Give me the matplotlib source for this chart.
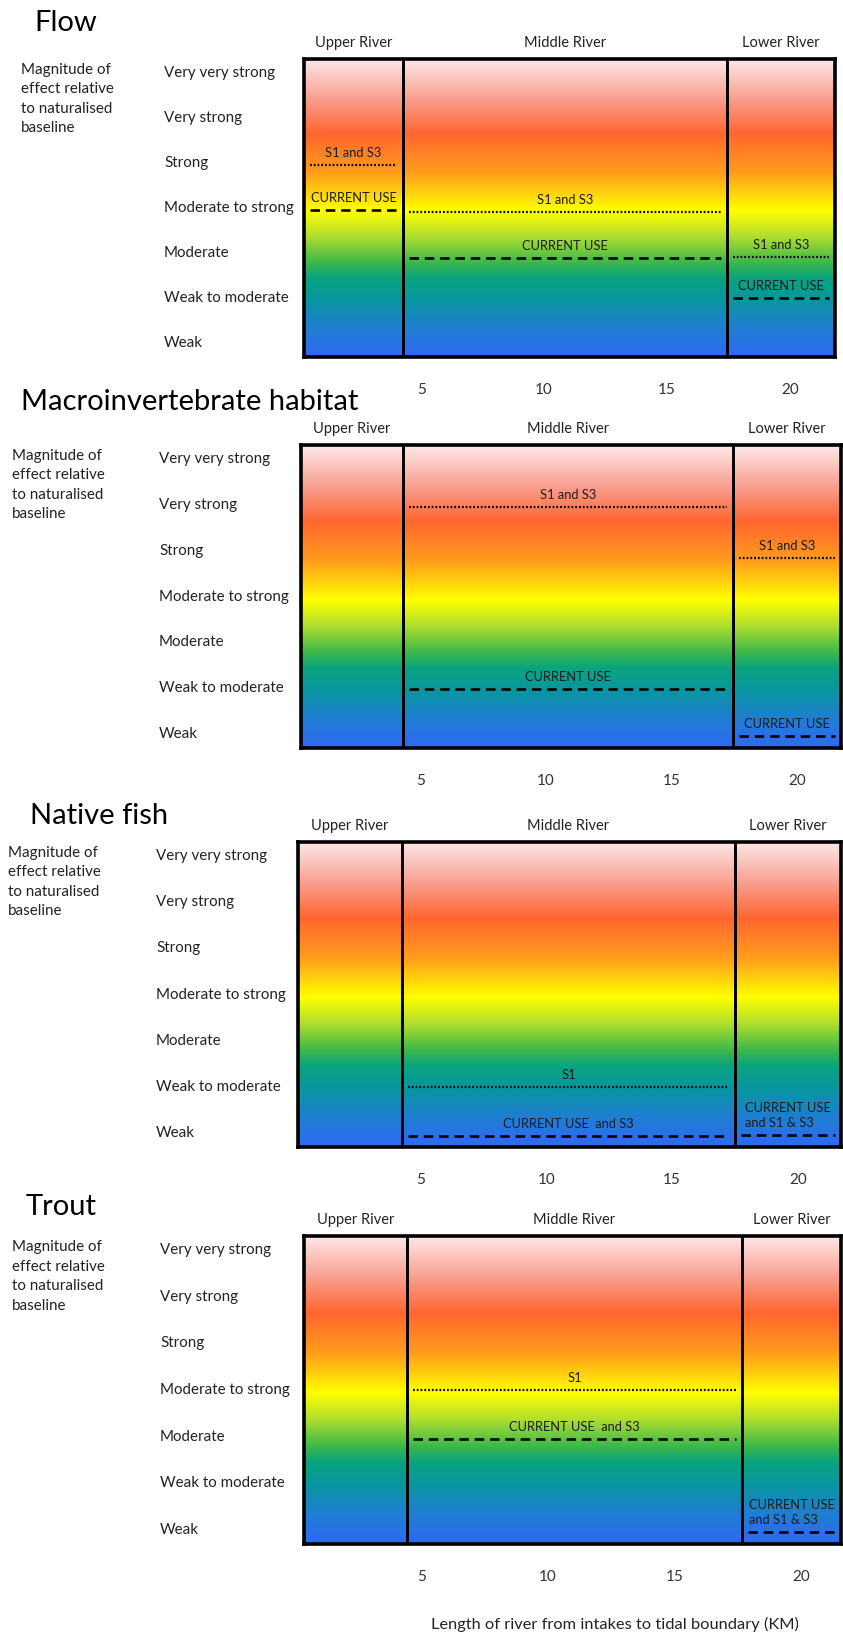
import numpy as np
import matplotlib
matplotlib.use("Agg")
import matplotlib.pyplot as plt
import matplotlib.transforms as mtransforms
from matplotlib.colors import LinearSegmentedColormap

plt.rcParams["font.family"] = ["Lato", "DejaVu Sans"]

# ---------------- data ----------------
levels = ["Weak", "Weak to moderate", "Moderate", "Moderate to strong",
          "Strong", "Very strong", "Very very strong"]
sections = ["Upper River", "Middle River", "Lower River"]
km_ticks = [5, 10, 15, 20]
x_label = "Length of river from intakes to tidal boundary (KM)"
side_note = "Magnitude of\neffect relative\nto naturalised\nbaseline"
panel_titles = ["Flow", "Macroinvertebrate habitat", "Native fish", "Trout"]

# section boundaries along the river (km) for each panel
flow_edges = [0.24, 4.27, 17.44, 21.83]
macro_edges = [0.24, 4.30, 17.45, 21.75]
fish_edges = [0.12, 4.26, 17.50, 21.72]
trout_edges = [0.36, 4.43, 17.67, 21.58]

# scenario markers: section index, label, line style, level (0 = Weak ... 6 = Very very strong)
flow_section = [0, 0, 1, 1, 2, 2]
flow_label = ["S1 and S3", "CURRENT USE", "S1 and S3", "CURRENT USE", "S1 and S3", "CURRENT USE"]
flow_style = ["dotted", "dashed", "dotted", "dashed", "dotted", "dashed"]
flow_level = [3.95, 2.95, 2.92, 1.90, 1.92, 1.00]

macro_section = [1, 1, 2, 2]
macro_label = ["S1 and S3", "CURRENT USE", "S1 and S3", "CURRENT USE"]
macro_style = ["dotted", "dashed", "dotted", "dashed"]
macro_level = [4.96, 0.98, 3.83, -0.04]

fish_section = [1, 1, 2]
fish_label = ["S1", "CURRENT USE  and S3", "CURRENT USE\nand S1 & S3"]
fish_style = ["dotted", "dashed", "dashed"]
fish_level = [1.00, -0.06, -0.04]

trout_section = [1, 1, 2]
trout_label = ["S1", "CURRENT USE  and S3", "CURRENT USE\nand S1 & S3"]
trout_style = ["dotted", "dashed", "dashed"]
trout_level = [2.99, 1.94, -0.04]

panels = [
    (flow_edges, flow_section, flow_label, flow_style, flow_level),
    (macro_edges, macro_section, macro_label, macro_style, macro_level),
    (fish_edges, fish_section, fish_label, fish_style, fish_level),
    (trout_edges, trout_section, trout_label, trout_style, trout_level),
]

# ---------------- layout (pixels) ----------------
W, H, DPI = 843, 1635, 100
box_px = [(304, 835, 59, 357), (301, 841, 445, 748), (298, 841, 842, 1147), (304, 841, 1236, 1544)]
title_px = [(34, 23), (21, 402), (30, 816), (26, 1207)]
row_x_px = [164, 159, 156, 160]
note_x_px = [21, 12, 8, 12]
YLIM = (-0.3, 6.3)

grad_colors = [
    (0.00, "#2f69f4"),
    (0.10, "#1f7fd0"),
    (0.19, "#08969f"),
    (0.265, "#0aa47e"),
    (0.315, "#3cb84a"),
    (0.405, "#b2df2e"),
    (0.49, "#ffff00"),
    (0.62, "#ff9c1c"),
    (0.75, "#ff6630"),
    (0.86, "#f99c8c"),
    (1.00, "#fde8e8"),
]
cmap = LinearSegmentedColormap.from_list("effect", grad_colors)

TXT = "#222222"

fig = plt.figure(figsize=(W / DPI, H / DPI), dpi=DPI)


def fx(px):
    return px / W


def fy(py):
    return 1 - py / H


grad = np.linspace(0, 1, 600).reshape(-1, 1)

for i, (edges, sec, lab, sty, lvl) in enumerate(panels):
    L, R, T, B = box_px[i]
    ax = fig.add_axes([fx(L), fy(B), (R - L) / W, (B - T) / H])
    ax.set_xlim(edges[0], edges[-1])
    ax.set_ylim(*YLIM)
    ax.imshow(grad, cmap=cmap, aspect="auto", origin="lower",
              extent=[edges[0], edges[-1], YLIM[0], YLIM[1]],
              interpolation="bilinear", zorder=0)
    for e in edges[1:-1]:
        ax.axvline(e, color="black", lw=2.1, zorder=4)
    for s in ax.spines.values():
        s.set_linewidth(2.6)
        s.set_color("black")
        s.set_zorder(5)
    ax.set_yticks([])
    ax.set_xticks(km_ticks)
    ax.set_xticklabels([str(t) for t in km_ticks])
    ax.tick_params(axis="x", length=0, pad=19, labelsize=11, labelcolor="#333333")

    # section headers
    for j, name in enumerate(sections):
        cx = (edges[j] + edges[j + 1]) / 2
        ax.annotate(name, xy=(cx, 1), xycoords=("data", "axes fraction"),
                    xytext=(0, 16), textcoords="offset pixels",
                    ha="center", va="center", fontsize=10.5, color=TXT)

    # level labels
    blend = mtransforms.blended_transform_factory(fig.transFigure, ax.transData)
    for k, name in enumerate(levels):
        ax.text(fx(row_x_px[i]), k, name, transform=blend, ha="left", va="center",
                fontsize=10.9, color=TXT)
    ax.annotate(side_note, xy=(fx(note_x_px[i]), len(levels) - 1), xycoords=blend,
                xytext=(0, 10), textcoords="offset pixels", ha="left", va="top",
                fontsize=10.9, color=TXT, linespacing=1.5)

    # scenario lines
    for s_idx, text, style, lv in zip(sec, lab, sty, lvl):
        a, b = edges[s_idx], edges[s_idx + 1]
        inset = 0.25
        x0, x1 = a + inset, min(b - inset, edges[-1])
        if style == "dotted":
            ax.plot([x0, x1], [lv, lv], color="black", lw=1.6,
                    linestyle=(0, (0.8, 0.9)), zorder=3, solid_capstyle="butt")
        else:
            ax.plot([x0, x1], [lv, lv], color="black", lw=1.9,
                    linestyle=(0, (3.6, 2.2)), zorder=3)
        ax.annotate(text, xy=((a + b) / 2, lv), xytext=(0, 6), textcoords="offset pixels",
                    ha="center", va="bottom", fontsize=9.3, color="#1c1c1c",
                    multialignment="left", linespacing=1.25, zorder=6)

    tx, ty = title_px[i]
    fig.text(fx(tx), fy(ty), panel_titles[i], ha="left", va="center",
             fontsize=21, color="black")

fig.text(fx(615), fy(1624), x_label, ha="center", va="center", fontsize=11.8, color=TXT)

fig.savefig("out.png", dpi=DPI)
